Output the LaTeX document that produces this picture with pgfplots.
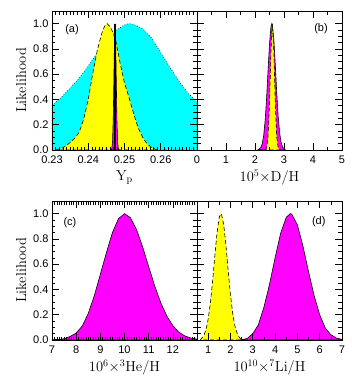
\documentclass[border=0pt]{standalone}
\usepackage{fontspec}
\usepackage{pgfplots}
\pgfplotsset{compat=1.18}
\newfontfamily\hv{Liberation Sans}
\definecolor{cy}{RGB}{0,255,255}
\definecolor{ye}{RGB}{255,255,0}
\definecolor{ma}{RGB}{255,0,255}
\pgfplotsset{
 panel/.style={
  scale only axis, width=145pt, height=139pt, anchor=north west,
  axis on top, ymin=0, ymax=1.1,
  ytick={0,0.2,0.4,0.6,0.8,1.0},
  minor y tick num=3,
  tick align=inside, major tick length=7pt, minor tick length=3.5pt,
  xtick pos=both, ytick pos=both,
  xticklabel pos=lower, yticklabel pos=left,
  every tick/.style={black, line width=0.6pt},
  axis line style={line width=0.8pt},
  tick label style={font=\hv\fontsize{11}{13}\selectfont},
  xticklabel style={yshift=-2pt},
  /pgf/number format/assume math mode=true,
  label style={font=\fontsize{14.5}{16}\selectfont},
 },
 leftpanel/.style={yticklabels={0.0,0.2,0.4,0.6,0.8,1.0}, ylabel={Likelihood}},
 rightpanel/.style={yticklabels={}},
 magfill/.style={fill=ma, draw=black, line width=0.6pt},
 yelfill/.style={fill=ye, draw=black, line width=0.6pt, dash pattern=on 4pt off 2.5pt},
 cyanfill/.style={fill=cy, draw=black, line width=0.6pt, dotted},
}
\begin{document}
\begin{tikzpicture}
\path[use as bounding box] (0,0) rectangle (352pt,-381pt);

% (a)
\begin{axis}[panel, leftpanel, at={(52pt,-11pt)},
  xmin=0.23, xmax=0.27, xtick={0.23,0.24,0.25,0.26,0.27},
  xticklabels={0.23,0.24,0.25,0.26,{}}, minor x tick num=9,
  xlabel={$\mathrm{Y_p}$}]
\addplot[cyanfill] coordinates {
(0.2300,0.355) (0.2325,0.415) (0.2350,0.49) (0.2375,0.57) (0.2400,0.665)
(0.2425,0.77) (0.2450,0.87) (0.2475,0.945) (0.2500,0.99) (0.2512,1.0)
(0.2525,0.995) (0.2550,0.96) (0.2575,0.885) (0.2600,0.77) (0.2625,0.655)
(0.2650,0.545) (0.2675,0.45) (0.2700,0.38)} \closedcycle;
\addplot[yelfill] coordinates {
(0.2310,0.0) (0.2325,0.01) (0.2337,0.03) (0.2350,0.06) (0.2362,0.09)
(0.2375,0.14) (0.2387,0.24) (0.2400,0.40) (0.2412,0.60) (0.2425,0.79)
(0.2437,0.92) (0.2445,0.98) (0.2452,1.0) (0.2462,0.97) (0.2475,0.88)
(0.2487,0.70) (0.2500,0.53) (0.2512,0.42) (0.2525,0.29) (0.2537,0.18)
(0.2550,0.10) (0.2562,0.05) (0.2575,0.018) (0.2590,0.0)} \closedcycle;
\addplot[magfill] coordinates {
(0.2462,0) (0.2465,0.011) (0.2467,0.066) (0.2469,0.249) (0.2471,0.607)
(0.24725,0.882) (0.2474,1.0) (0.24755,0.882) (0.2477,0.607) (0.2479,0.249)
(0.2481,0.066) (0.2483,0.011) (0.2486,0)} \closedcycle;
\addplot[black, line width=1.3pt] coordinates {(0.2474,0) (0.2474,1.0)};
\node[font=\hv\fontsize{11}{13}\selectfont] at (rel axis cs:0.138,0.863) {(a)};
\end{axis}

% (b)
\begin{axis}[panel, rightpanel, at={(197pt,-11pt)},
  xmin=0, xmax=5, xtick={0,1,2,3,4,5}, minor x tick num=1,
  xlabel={10$^5{\times}$D/H}]
\addplot[magfill] coordinates {
(2.10,0) (2.20,0.019) (2.25,0.05) (2.30,0.116) (2.35,0.234) (2.40,0.411)
(2.45,0.629) (2.50,0.839) (2.55,0.976) (2.58,1.0) (2.60,0.989) (2.65,0.874)
(2.70,0.674) (2.75,0.453) (2.80,0.265) (2.85,0.135) (2.90,0.060)
(2.95,0.023) (3.05,0)} \closedcycle;
\addplot[yelfill] coordinates {
(2.35,0) (2.40,0.017) (2.45,0.10) (2.50,0.36) (2.55,0.775) (2.60,1.0)
(2.65,0.775) (2.70,0.36) (2.75,0.10) (2.80,0.017) (2.85,0)} \closedcycle;
\node[font=\hv\fontsize{11}{13}\selectfont] at (rel axis cs:0.855,0.87) {(b)};
\end{axis}

% (c)
\begin{axis}[panel, leftpanel, at={(52pt,-201pt)},
  xmin=7, xmax=13, xtick={7,8,9,10,11,12,13},
  xticklabels={7,8,9,10,11,12,{}}, minor x tick num=9,
  xlabel={10$^6{\times}{}^3$He/H}]
\addplot[magfill] coordinates {
(7.0,0.002) (7.25,0.005) (7.5,0.01) (7.75,0.028) (8.0,0.055) (8.25,0.11)
(8.5,0.21) (8.75,0.35) (9.0,0.52) (9.25,0.69) (9.5,0.85) (9.75,0.96)
(10.0,1.0) (10.25,0.967) (10.5,0.873) (10.75,0.737) (11.0,0.581)
(11.25,0.428) (11.5,0.295) (11.75,0.19) (12.0,0.114) (12.25,0.062)
(12.5,0.032) (12.75,0.015) (13.0,0.007)} \closedcycle;
\node[font=\hv\fontsize{11}{13}\selectfont] at (rel axis cs:0.124,0.842) {(c)};
\end{axis}

% (d)
\begin{axis}[panel, rightpanel, at={(197pt,-201pt)},
  xmin=0.5, xmax=7, xtick={1,2,3,4,5,6,7}, minor x tick num=1,
  xlabel={10$^{10}{\times}{}^7$Li/H}]
\addplot[yelfill] coordinates {
(0.65,0) (0.7,0.012) (0.8,0.033) (0.9,0.08) (1.0,0.164) (1.1,0.293)
(1.2,0.467) (1.3,0.667) (1.4,0.852) (1.5,0.973) (1.57,1.0) (1.6,0.995)
(1.7,0.91) (1.8,0.745) (1.9,0.546) (2.0,0.358) (2.1,0.21) (2.2,0.11)
(2.3,0.052) (2.4,0.02) (2.5,0)} \closedcycle;
\addplot[magfill] coordinates {
(2.45,0) (2.75,0.012) (3.0,0.05) (3.25,0.12) (3.5,0.26) (3.75,0.44)
(4.0,0.65) (4.25,0.845) (4.5,0.971) (4.68,1.0) (4.75,0.996) (5.0,0.911)
(5.25,0.743) (5.5,0.541) (5.75,0.352) (6.0,0.2) (6.25,0.095) (6.5,0.042)
(6.75,0.015) (7.0,0.005)} \closedcycle;
\node[font=\hv\fontsize{11}{13}\selectfont] at (rel axis cs:0.84,0.85) {(d)};
\end{axis}
\end{tikzpicture}
\end{document}
